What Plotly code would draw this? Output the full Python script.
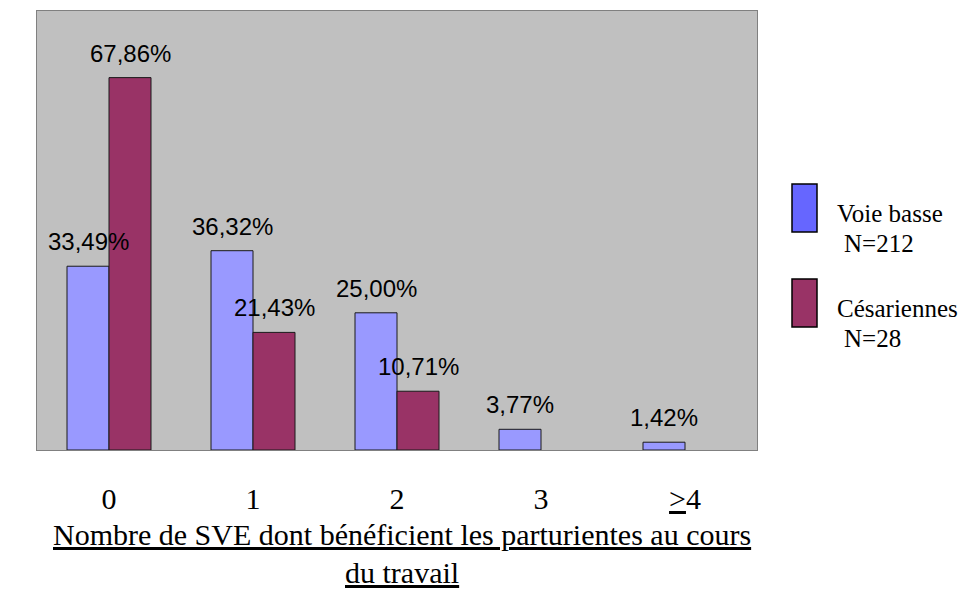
import plotly.graph_objects as go

categories = ["0", "1", "2", "3", "≥4"]
tick_labels = ["0", "1", "2", "3", "<u>></u>4"]
voie_basse = [33.49, 36.32, 25.00, 3.77, 1.42]
cesariennes = [67.86, 21.43, 10.71, None, None]

def fmt(v):
    return f"{v:.2f}".replace(".", ",") + "%"

SANS = "Liberation Sans, Arial"
SERIF = "Liberation Serif, Times New Roman"

fig = go.Figure()
fig.add_trace(go.Bar(
    x=categories, y=voie_basse, name="Voie basse N=212",
    marker=dict(color="#9999FF", line=dict(color="#1a1a1a", width=1)),
    cliponaxis=False,
))
fig.add_trace(go.Bar(
    x=categories, y=cesariennes, name="Césariennes N=28",
    marker=dict(color="#993366", line=dict(color="#1a1a1a", width=1)),
    cliponaxis=False,
))

# Value labels drawn on top of all bars
for series, shift in ((voie_basse, -21), (cesariennes, 21)):
    for c, v in zip(categories, series):
        if v is None:
            continue
        fig.add_annotation(x=c, y=v, xref="x", yref="y", text=fmt(v), showarrow=False,
                           xshift=shift, yshift=9, yanchor="bottom",
                           font=dict(family=SANS, size=24, color="black"))

fig.update_layout(
    width=970, height=589,
    margin=dict(l=37, r=213, t=11, b=139),
    paper_bgcolor="white", plot_bgcolor="#C0C0C0",
    barmode="group", bargap=0.4167, bargroupgap=0,
    showlegend=False,
    font=dict(family=SERIF, color="black"),
)
fig.update_xaxes(
    tickmode="array", tickvals=categories, ticktext=tick_labels,
    tickfont=dict(family=SERIF, size=30, color="black"),
    ticks="", showline=True, linecolor="#808080", linewidth=1, mirror=True,
    ticklabelstandoff=22,
)
fig.update_yaxes(
    range=[0, 80], showticklabels=False, showgrid=False, zeroline=False,
    ticks="", showline=True, linecolor="#808080", linewidth=1, mirror=True,
)

def py(pix):
    return (450 - pix) / 439

# Axis title (underlined, two lines)
fig.add_annotation(xref="paper", yref="paper", x=(402 - 37) / 720, y=py(534), yanchor="middle",
                   text="<u>Nombre de SVE dont bénéficient les parturientes au cours</u>",
                   showarrow=False, font=dict(size=30, family=SERIF))
fig.add_annotation(xref="paper", yref="paper", x=(402 - 37) / 720, y=py(572), yanchor="middle",
                   text="<u>du travail</u>",
                   showarrow=False, font=dict(size=30, family=SERIF))

# Custom legend
legend_items = [("#6666FF", "Voie basse", "N=212"), ("#993366", "Césariennes", "N=28")]
box_tops = [184, 279]
for (col, l1, l2), top in zip(legend_items, box_tops):
    fig.add_shape(type="rect", xref="paper", yref="paper",
                  x0=(792 - 37) / 720, x1=(817 - 37) / 720,
                  y0=py(top + 48), y1=py(top),
                  fillcolor=col, line=dict(color="black", width=1.5))
    fig.add_annotation(xref="paper", yref="paper", x=(836 - 37) / 720, y=py(top + 29.5),
                       xanchor="left", yanchor="middle", text=l1, showarrow=False, borderpad=0,
                       font=dict(size=25, family=SERIF))
    fig.add_annotation(xref="paper", yref="paper", x=(843 - 37) / 720, y=py(top + 59.5),
                       xanchor="left", yanchor="middle", text=l2, showarrow=False, borderpad=0,
                       font=dict(size=25, family=SERIF))

fig.write_html("out.html", config={"displayModeBar": False})
with open("out.html", encoding="utf-8") as f:
    html = f.read()
html = html.replace("<head>", "<head><style>html,body{margin:0;padding:0;overflow:hidden}</style>", 1)
with open("out.html", "w", encoding="utf-8") as f:
    f.write(html)
